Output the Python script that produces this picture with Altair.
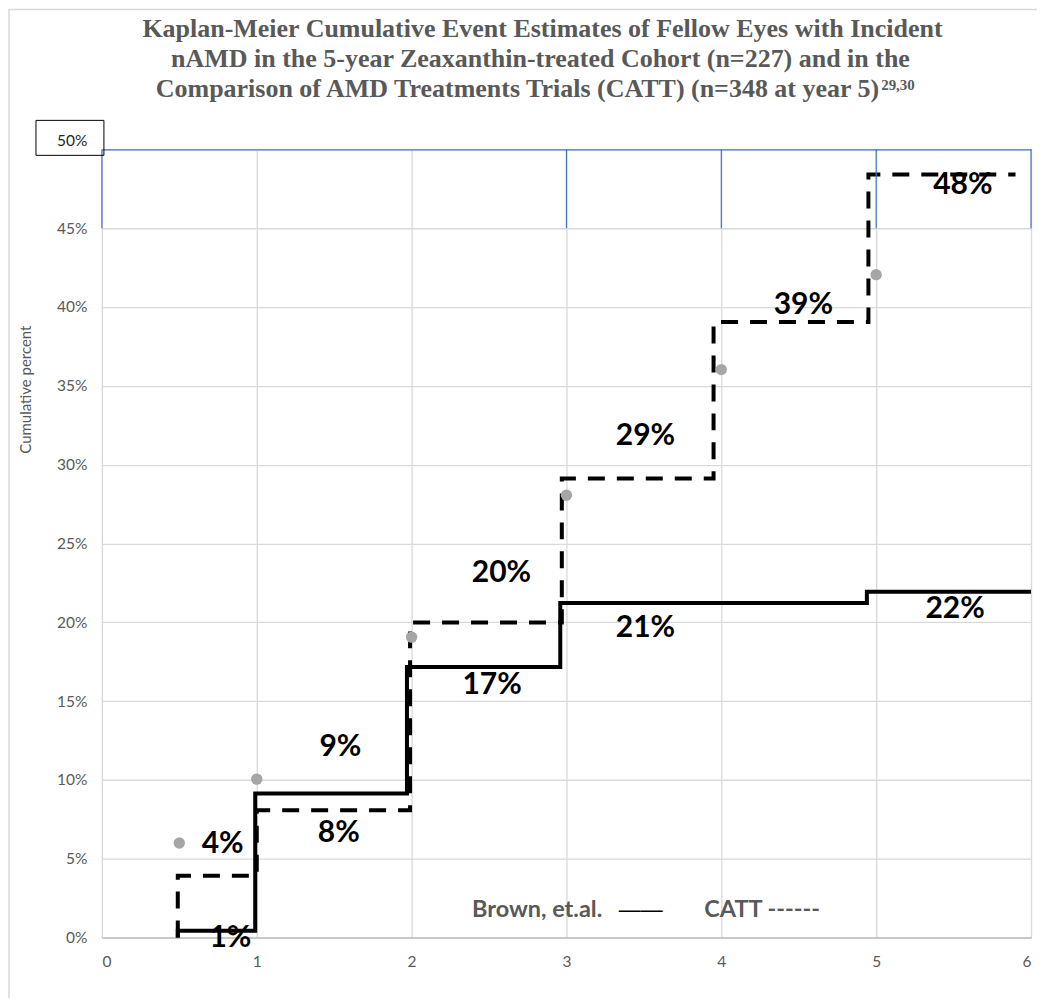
import altair as alt
import pandas as pd

# ---- data ----
# Brown, et.al. (solid step line): step-before vertices
brown_x = [0.49, 0.99, 1.97, 2.96, 4.94, 6.0]
brown_y = [0.0, 0.43, 9.14, 17.17, 21.23, 21.93]

# CATT (dashed step line): step-before vertices
catt_x = [0.49, 1.0, 1.99, 2.97, 3.95, 4.95, 5.90]
catt_y = [0.0, 3.92, 8.08, 19.99, 29.12, 39.05, 48.4]

# grey points
dot_x = [0.5, 1, 2, 3, 4, 5]
dot_y = [6.0, 10.05, 19.06, 28.06, 36.03, 42.05]

# bold percentage labels
lab_text = ["1%", "4%", "8%", "9%", "17%", "20%", "21%", "29%", "39%", "22%", "48%"]
lab_x = [0.83, 0.78, 1.53, 1.54, 2.52, 2.58, 3.51, 3.51, 4.53, 5.51, 5.56]
lab_y = [0.0, 5.93, 6.66, 12.08, 16.04, 23.15, 19.66, 31.8, 40.1, 20.83, 47.74]

# in-plot legend text
leg_text = ["Brown, et.al.", "——", "CATT ------"]
leg_x = [2.39, 3.48, 3.89]
leg_y = [1.78, 1.78, 1.78]
leg_kind = ["bold", "dash", "bold"]

# top band (45%-50%) blue gridlines
blue_x = [0, 3, 4, 5, 6]

x_ticks = [0, 1, 2, 3, 4, 5, 6]
y_ticks = [0, 5, 10, 15, 20, 25, 30, 35, 40, 45, 50]

title_lines = [
    "Kaplan-Meier Cumulative Event Estimates of Fellow Eyes with Incident",
    "nAMD in the 5-year Zeaxanthin-treated Cohort (n=227) and in the",
    "Comparison of AMD Treatments Trials (CATT) (n=348 at year 5)",
]
title_sup = "29,30"

GRAY = "#595959"
GRID = "#D9D9D9"
BLUE = "#4472C4"

brown = pd.DataFrame({"x": brown_x, "y": brown_y})
catt = pd.DataFrame({"x": catt_x, "y": catt_y})
dots = pd.DataFrame({"x": dot_x, "y": dot_y})
labs = pd.DataFrame({"x": lab_x, "y": lab_y, "t": lab_text})
legs = pd.DataFrame({"x": leg_x, "y": leg_y, "t": leg_text, "k": leg_kind})
blue = pd.DataFrame({"x": blue_x, "y": [45] * len(blue_x), "y2": [50] * len(blue_x)})

xs = alt.Scale(domain=[0, 6], nice=False)
ys = alt.Scale(domain=[0, 50], nice=False)

xaxis = alt.Axis(values=x_ticks, title=None, ticks=False, grid=True,
                 gridColor=GRID, gridWidth=1.3, domainColor="#BFBFBF",
                 domainWidth=1.5, labelColor=GRAY, labelFont="Lato",
                 labelFontSize=15.5, labelPadding=17, format="d")
yaxis = alt.Axis(values=y_ticks, title="Cumulative percent", ticks=False,
                 domain=False, grid=True,
                 gridColor={"condition": {"test": "datum.value == 50", "value": BLUE},
                            "value": GRID},
                 gridWidth=1.3,
                 labelExpr="datum.value + '%'",
                 labelColor={"condition": {"test": "datum.value == 50", "value": "#262626"},
                             "value": GRAY},
                 labelOffset={"condition": {"test": "datum.value == 50", "value": -9},
                              "value": 0},
                 labelFont="Lato", labelFontSize=15.5, labelPadding=15,
                 titleFont="Lato", titleFontSize=15, titleFontWeight="normal",
                 titleColor=GRAY, titleX=-68, titleY=240)

base_x = alt.X("x:Q", scale=xs, axis=xaxis)
base_y = alt.Y("y:Q", scale=ys, axis=yaxis)

one = pd.DataFrame({"k": [0]})

border = alt.Chart(one).mark_rect(
    fillOpacity=0, stroke="#D9D9D9", strokeWidth=1.5).encode(
    x=alt.value(-93), x2=alt.value(1000), y=alt.value(-140), y2=alt.value(900))

blue_rules = alt.Chart(blue).mark_rule(color=BLUE, strokeWidth=1.2).encode(
    x=alt.X("x:Q", scale=xs), y=alt.Y("y:Q", scale=ys), y2="y2:Q")

box = alt.Chart(one).mark_rect(
    fill="white", fillOpacity=0, stroke="#000000", strokeWidth=1).encode(
    x=alt.value(-66), x2=alt.value(2), y=alt.value(-29), y2=alt.value(6))

catt_line = alt.Chart(catt).mark_line(
    interpolate="step-before", color="#000000", strokeWidth=4,
    strokeDash=[17, 12]).encode(x=base_x, y=base_y)

brown_line = alt.Chart(brown).mark_line(
    interpolate="step-before", color="#000000", strokeWidth=4).encode(
    x=alt.X("x:Q", scale=xs), y=alt.Y("y:Q", scale=ys))

dot_layer = alt.Chart(dots).mark_circle(size=130, color="#A6A6A6", opacity=1).encode(
    x=alt.X("x:Q", scale=xs), y=alt.Y("y:Q", scale=ys))

label_layer = alt.Chart(labs).mark_text(
    font="Lato", fontSize=30, fontWeight="bold", color="#000000",
    align="center", baseline="middle").encode(
    x=alt.X("x:Q", scale=xs), y=alt.Y("y:Q", scale=ys), text="t:N")

leg_bold = alt.Chart(legs[legs.k == "bold"]).mark_text(
    font="Lato", fontSize=23.5, fontWeight="bold", color=GRAY,
    align="left", baseline="middle").encode(
    x=alt.X("x:Q", scale=xs), y=alt.Y("y:Q", scale=ys), text="t:N")
leg_dash = alt.Chart(legs[legs.k == "dash"]).mark_text(
    font="Liberation Sans", fontSize=22, fontWeight="normal", color="#000000",
    align="center", baseline="middle").encode(
    x=alt.X("x:Q", scale=xs), y=alt.Y("y:Q", scale=ys), text="t:N")


def title_text(txt, x, y, align, size=26):
    return alt.Chart(one).mark_text(
        font="Liberation Serif", fontSize=size, fontWeight="bold", color=GRAY,
        align=align, baseline="alphabetic", text=txt).encode(
        x=alt.value(x), y=alt.value(y))


t1 = title_text(title_lines[0], 441, -112, "center")
t2 = title_text(title_lines[1], 439, -82, "center")
t3 = title_text(title_lines[2], 778, -52, "right")
t_sup = title_text(title_sup, 780, -59, "left", size=15)

chart = alt.layer(
    border, catt_line, blue_rules, box, brown_line, dot_layer, label_layer,
    leg_bold, leg_dash, t1, t2, t3, t_sup
).properties(
    width=930, height=789,
    autosize=alt.AutoSizeParams(type="none"),
    padding={"left": 94, "top": 141, "right": 6, "bottom": 60},
).configure_view(stroke=None).configure(background="white")

chart.save("out.html", embed_options={"renderer": "svg", "actions": False})
